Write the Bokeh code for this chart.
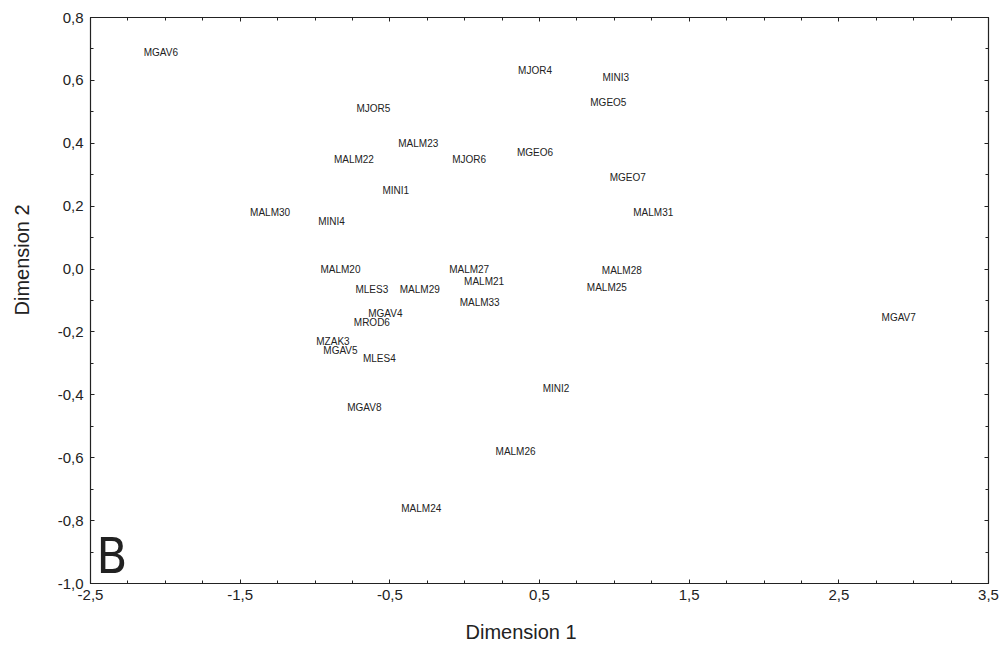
from bokeh.plotting import figure
from bokeh.models import (Range1d, ColumnDataSource, FixedTicker, CustomJSTickFormatter,
                          LinearAxis, Label, Title)
from bokeh.core.properties import value
from bokeh.embed import file_html
from bokeh.resources import INLINE

labels = ["MGAV6", "MJOR4", "MINI3", "MGEO5", "MJOR5", "MALM23", "MJOR6", "MGEO6",
          "MALM22", "MGEO7", "MINI1", "MALM30", "MALM31", "MINI4", "MALM20", "MALM27",
          "MALM28", "MALM21", "MLES3", "MALM29", "MALM25", "MALM33", "MGAV7", "MGAV4",
          "MROD6", "MZAK3", "MGAV5", "MLES4", "MINI2", "MGAV8", "MALM26", "MALM24"]
dim1 = [-2.03, 0.47, 1.01, 0.96, -0.61, -0.31, 0.03, 0.47,
        -0.74, 1.09, -0.46, -1.30, 1.26, -0.89, -0.83, 0.03,
        1.05, 0.13, -0.62, -0.30, 0.95, 0.10, 2.90, -0.53,
        -0.62, -0.88, -0.83, -0.57, 0.61, -0.67, 0.34, -0.29]
dim2 = [0.69, 0.63, 0.61, 0.53, 0.51, 0.40, 0.35, 0.37,
        0.35, 0.29, 0.25, 0.18, 0.18, 0.15, 0.00, 0.00,
        -0.005, -0.04, -0.065, -0.065, -0.06, -0.105, -0.155, -0.14,
        -0.17, -0.23, -0.26, -0.285, -0.38, -0.44, -0.58, -0.76]

x_ticks = [-2.5, -1.5, -0.5, 0.5, 1.5, 2.5, 3.5]
x_minor = [-2.5 + 0.25 * i for i in range(25)]
y_ticks = [0.8, 0.6, 0.4, 0.2, 0.0, -0.2, -0.4, -0.6, -0.8, -1.0]
y_minor = [-1.0 + 0.1 * i for i in range(19)]

FONT = "Liberation Sans"
INK = "#222222"

p = figure(width=1001, height=646, output_backend="svg", toolbar_location=None,
           x_range=Range1d(-2.5, 3.5), y_range=Range1d(-1.0, 0.8),
           min_border_left=90, min_border_right=13, min_border_top=17, min_border_bottom=63)
p.grid.visible = False
p.outline_line_color = INK
p.outline_line_width = 1.2
p.background_fill_color = "white"
p.border_fill_color = "white"

fmt = CustomJSTickFormatter(code="return tick.toFixed(1).replace('.', ',');")

for ax, ticks, minor in ((p.xaxis[0], x_ticks, x_minor), (p.yaxis[0], y_ticks, y_minor)):
    ax.ticker = FixedTicker(ticks=ticks, minor_ticks=minor)
    ax.formatter = fmt
    ax.major_tick_in = 4
    ax.major_tick_out = 0
    ax.minor_tick_in = 3
    ax.minor_tick_out = 0
    ax.axis_line_color = INK
    ax.major_tick_line_color = INK
    ax.minor_tick_line_color = INK
    ax.major_label_text_font = FONT
    ax.major_label_text_font_size = "15px"
    ax.major_label_text_color = INK

p.xaxis.major_label_standoff = 6
p.yaxis.major_label_standoff = 7

blank = CustomJSTickFormatter(code="return '';")
for loc, ticks, minor in (("right", y_ticks, y_minor), ("above", x_ticks, x_minor)):
    a = LinearAxis(ticker=FixedTicker(ticks=ticks, minor_ticks=minor), formatter=blank,
                   major_tick_in=4, major_tick_out=0,
                   minor_tick_in=3, minor_tick_out=0, axis_line_color=INK,
                   major_tick_line_color=INK, minor_tick_line_color=INK,
                   major_label_standoff=0)
    p.add_layout(a, loc)

# invisible spacer axes that push the axis titles outward
for loc, ticks, gap in (("left", y_ticks, 22), ("below", x_ticks, 16)):
    s = LinearAxis(ticker=FixedTicker(ticks=ticks), formatter=blank,
                   major_tick_in=0, major_tick_out=gap, minor_tick_in=0, minor_tick_out=0,
                   axis_line_color=None, major_tick_line_color=None,
                   minor_tick_line_color=None, major_label_standoff=0)
    p.add_layout(s, loc)

src = ColumnDataSource(dict(x=dim1, y=dim2, t=labels))
p.text(x="x", y="y", text="t", source=src, text_font=value(FONT), text_font_size="10px",
       text_align="center", text_baseline="middle", text_color=INK)

# axis titles
p.add_layout(Title(text="Dimension 1", align="left", offset=375, standoff=0,
                   text_font=FONT, text_font_size="20px", text_font_style="normal",
                   text_color=INK), "below")
p.add_layout(Title(text="Dimension 2", align="left", offset=268, standoff=0,
                   text_font=FONT, text_font_size="20px", text_font_style="normal",
                   text_color=INK), "left")

p.add_layout(Label(x=6, y=-1, x_units="screen", y_units="screen", text="B",
                   text_font="'DejaVu Sans Condensed', 'DejaVu Sans'", text_font_size="50px",
                   text_color=INK))

open("out.html", "w").write(file_html(p, INLINE))
